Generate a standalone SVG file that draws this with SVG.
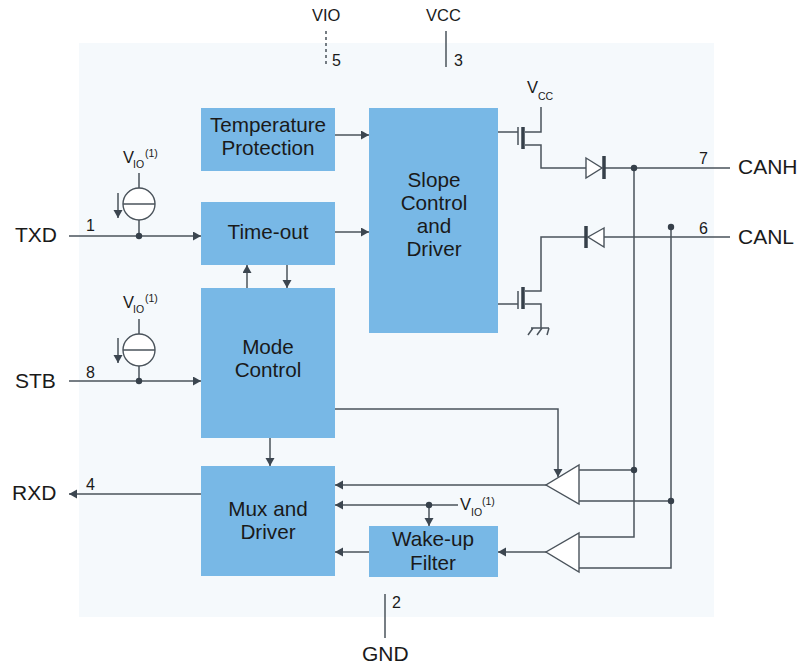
<svg xmlns="http://www.w3.org/2000/svg" width="799" height="668" viewBox="0 0 799 668">
<defs>
<marker id="a" markerUnits="userSpaceOnUse" markerWidth="9" markerHeight="10" refX="8" refY="4.5" orient="auto"><path d="M0 0L8 4.5L0 9Z" fill="#3c4650"/></marker>
</defs>
<style>
text{font-family:"Liberation Sans",Arial,sans-serif;fill:#1a1a1a}
.b{fill:#78b8e6;stroke:none}
.t{font-size:20.7px;text-anchor:middle}
.p{font-size:21px}
.n{font-size:16px}
.v{font-size:16.5px}
.s{font-size:10.5px}
.l{fill:none;stroke:#4a535b;stroke-width:1.5}
.a{marker-end:url(#a)}
.d{fill:#36404a}
.w{fill:#fff;stroke:#4a535b;stroke-width:1.4}
.h{stroke:#36404a;stroke-width:3.5;fill:none}
</style>
<rect x="79" y="43" width="635" height="574" fill="#f5f9fc"/>
<g id="connectors">
<path class="l" d="M326 31V67" stroke-dasharray="3 3"/>
<path class="l" d="M446 31V67"/>
<path class="l" d="M385 594V638"/>
<path class="l a" d="M69 236H201"/>
<path class="l a" d="M69 381H201"/>
<path class="l a" d="M201 494H69"/>
<path class="l a" d="M335 135H369"/>
<path class="l a" d="M335 232H369"/>
<path class="l a" d="M247 288V265"/>
<path class="l a" d="M287 265V288"/>
<path class="l a" d="M270 438V466"/>
<path class="l a" d="M335 409H558V477"/>
<path class="l a" d="M546 485H335"/>
<path class="l a" d="M429 505H335"/>
<path class="l" d="M429 505H458"/>
<path class="l a" d="M429 505V526"/>
<path class="l a" d="M369 552H335"/>
<path class="l a" d="M546 552H498"/>
<path class="l" d="M139 173V189M139 220V236M139 319V334M139 366V381"/>
<path class="l" d="M498 132H518M498 304H518M518 127V145M518 291V309"/>
<path class="l" d="M541 107V132H525M525 145H541V168H587M604 168H730"/>
<path class="l" d="M525 291H541V237H586M604 237H730"/>
<path class="l" d="M525 304H541V328"/>
<path class="l" d="M531 328H549M533 328L528 335M542 328L537 335M549 328L547 335" stroke-width="1"/>
<path class="l" d="M634 168V537H579"/>
<path class="l" d="M671 227V568H579"/>
<path class="l" d="M579 470H634M579 501H671"/>
</g>
<g id="n-tp"><rect class="b" x="201" y="108" width="134" height="63"/><text class="t" x="268" y="132">Temperature</text><text class="t" x="268" y="155">Protection</text></g>
<g id="n-to"><rect class="b" x="201" y="202" width="134" height="63"/><text class="t" x="268" y="239">Time-out</text></g>
<g id="n-mc"><rect class="b" x="201" y="288" width="134" height="150"/><text class="t" x="268" y="354">Mode</text><text class="t" x="268" y="377">Control</text></g>
<g id="n-md"><rect class="b" x="201" y="466" width="134" height="110"/><text class="t" x="268" y="516">Mux and</text><text class="t" x="268" y="539">Driver</text></g>
<g id="n-sc"><rect class="b" x="369" y="108" width="129" height="225"/><text class="t" x="434" y="187">Slope</text><text class="t" x="434" y="210">Control</text><text class="t" x="434" y="233">and</text><text class="t" x="434" y="256">Driver</text></g>
<g id="n-wf"><rect class="b" x="369" y="526" width="129" height="51"/><text class="t" x="433" y="546">Wake-up</text><text class="t" x="433" y="570">Filter</text></g>
<g id="cur1"><circle class="w" cx="139" cy="204" r="16"/><path class="l" d="M123 204H155"/><path class="l a" d="M118 193V218"/></g>
<g id="cur2"><circle class="w" cx="139" cy="350" r="16"/><path class="l" d="M123 350H155"/><path class="l a" d="M118 338V363"/></g>
<g id="dots"><circle class="d" cx="139" cy="236" r="3.2"/><circle class="d" cx="139" cy="381" r="3.2"/><circle class="d" cx="634" cy="168" r="3.2"/><circle class="d" cx="671" cy="227" r="3.2"/><circle class="d" cx="634" cy="470" r="3.2"/><circle class="d" cx="671" cy="501" r="3.2"/><circle class="d" cx="429" cy="505" r="3.2"/></g>
<g id="t1"><path class="h" d="M523 127V149M523 287V309"/></g>
<g id="d1"><path class="w" d="M586 158L602 168L586 178Z"/><path class="h" d="M604 156V179"/></g>
<g id="d2"><path class="w" d="M604 228L588 237L604 247Z"/><path class="h" d="M586 226V248"/></g>
<g id="c1"><path class="w" d="M579 465V504L546 485Z"/></g>
<g id="c2"><path class="w" d="M579 533V572L546 552Z"/></g>
<text class="v" x="312" y="21">VIO</text><text class="v" x="426" y="21">VCC</text>
<text class="n" x="332" y="66">5</text><text class="n" x="454" y="66">3</text>
<text class="n" x="86" y="231">1</text><text class="n" x="86" y="378">8</text><text class="n" x="86" y="490">4</text>
<text class="n" x="699" y="164">7</text><text class="n" x="699" y="234">6</text><text class="n" x="392" y="608">2</text>
<text class="p" x="15" y="242">TXD</text><text class="p" x="15" y="388">STB</text><text class="p" x="12" y="500">RXD</text>
<text class="p" x="738" y="174">CANH</text><text class="p" x="738" y="244">CANL</text><text class="p" x="362" y="661">GND</text>
<g><text class="v" x="123" y="163">V</text><text class="s" x="133" y="168">IO</text><text class="s" x="145" y="157">(1)</text></g>
<g><text class="v" x="123" y="308">V</text><text class="s" x="133" y="313">IO</text><text class="s" x="145" y="302">(1)</text></g>
<g><text class="v" x="460" y="510">V</text><text class="s" x="471" y="516">IO</text><text class="s" x="482" y="505">(1)</text></g>
<g><text class="v" x="527" y="93">V</text><text class="s" x="538" y="100">CC</text></g>
</svg>
